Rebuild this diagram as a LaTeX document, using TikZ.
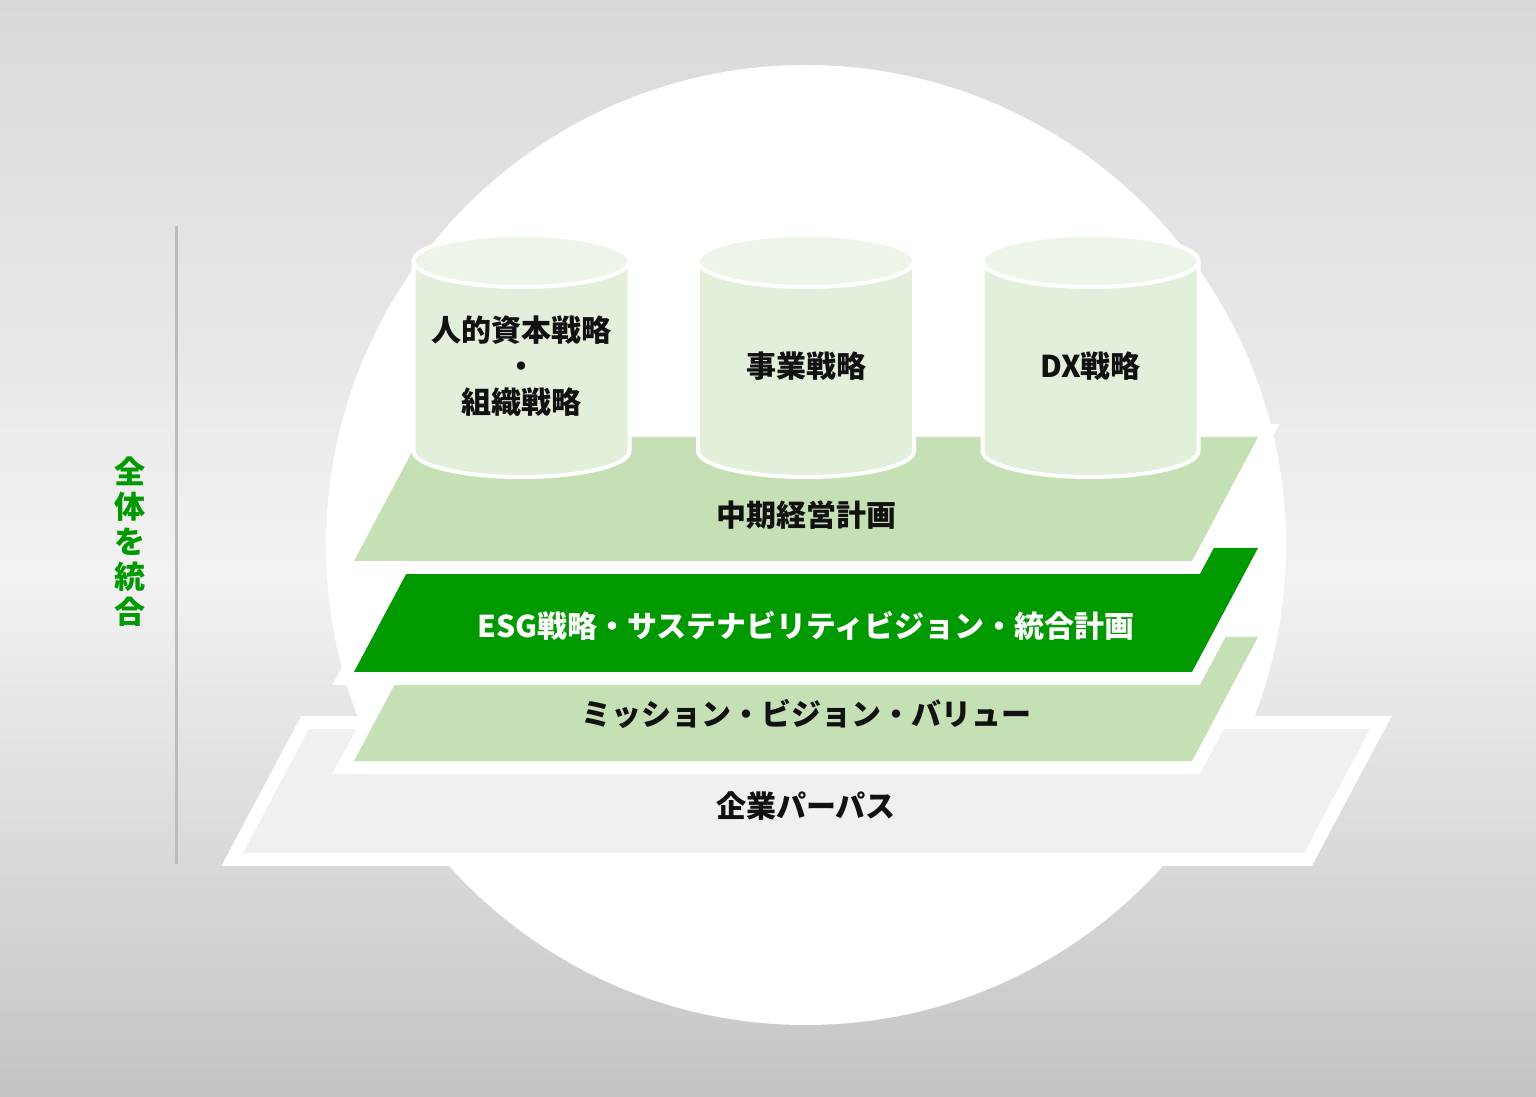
\documentclass[tikz,border=0pt]{standalone}
\usepackage{fontspec}
\setmainfont{Noto Sans CJK JP}
\usepackage{xcolor}
\usepackage{tikz}
\usetikzlibrary{positioning}
\definecolor{ink}{HTML}{111111}
\definecolor{bgtop}{HTML}{D9D9D9}
\definecolor{bgmid}{HTML}{F2F2F2}
\definecolor{bgbot}{HTML}{C4C4C4}
\definecolor{esggreen}{HTML}{009900}
\definecolor{midgreen}{HTML}{C5E0B4}
\definecolor{cylside}{HTML}{E2EFDA}
\definecolor{cylcap}{HTML}{EDF5E8}
\definecolor{basegray}{HTML}{F0F0F0}
\definecolor{rulegray}{HTML}{BCBCBC}
\tikzset{
  every node/.style={text=ink},
  % one layer of the stack; the argument is its fill, the white rim sits behind it
  slab/.style={fill=#1, preaction={draw=white, line width=26pt, line join=miter}},
  lbl/.style={font=\fontsize{30}{36}\selectfont\bfseries, align=center, inner sep=0pt},
  cylbody/.style={fill=cylside, draw=white, line width=4pt},
  cyltop/.style={fill=cylcap, draw=white, line width=4pt},
  rule/.style={draw=rulegray, line width=3pt},
}

\begin{document}
\begin{tikzpicture}[x=1pt,y=1pt]
  \useasboundingbox (0,0) rectangle (1536,1096);
  % backdrop, lightest just below the middle
  \shade[top color=bgmid, bottom color=bgbot] (0,0) rectangle (1536,520);
  \shade[top color=bgtop, bottom color=bgmid] (0,519) rectangle (1536,1096);
  \fill[white] (806,551) circle[radius=480];

  % side bar and vertical label
  \coordinate (bartop) at (176,870);
  \coordinate (barbot) at (176,232);
  \draw[rule] (bartop) -- (barbot);
  \node[lbl, font=\fontsize{31}{35}\selectfont\bfseries, text=esggreen] (whole) at (130,554)
        {全\\体\\を\\統\\合};

  % layers, bottom first
  \path[slab=basegray] (243,243) -- (1304,243) -- (1370,367) -- (309,367) -- cycle;
  \path[slab=midgreen] (354,335) -- (1192,335) -- (1258,459) -- (420,459) -- cycle;
  \path[slab=esggreen] (354,424) -- (1192,424) -- (1258,548) -- (420,548) -- cycle;
  \path[slab=midgreen] (354,535) -- (1192,535) -- (1258,659) -- (420,659) -- cycle;

  % pillars
  \foreach \cx in {521.5,806,1090.5}{
    \path[cylbody] (\cx-108,835) -- (\cx-108,645)
          arc[start angle=180, end angle=360, x radius=108, y radius=26]
          -- (\cx+108,835) arc[start angle=0, end angle=180, x radius=108, y radius=26] -- cycle;
    \path[cyltop] (\cx,835) ellipse[x radius=108, y radius=26];
  }

  \node[lbl] (hc)  at (521.5,730) {人的資本戦略\\・\\組織戦略};
  \node[lbl] (biz) at (806,730)   {事業戦略};
  \node[lbl] (dx)  at (1090.5,730) {DX戦略};

  \node[lbl] (plan)    at (806,581) {中期経営計画};
  \node[lbl, text=white] (esg) at (806,470) {ESG戦略・サステナビリティビジョン・統合計画};
  \node[lbl] (mvv)     at (806,382) {ミッション・ビジョン・バリュー};
  \node[lbl] (purpose) at (806,290) {企業パーパス};
\end{tikzpicture}
\end{document}
